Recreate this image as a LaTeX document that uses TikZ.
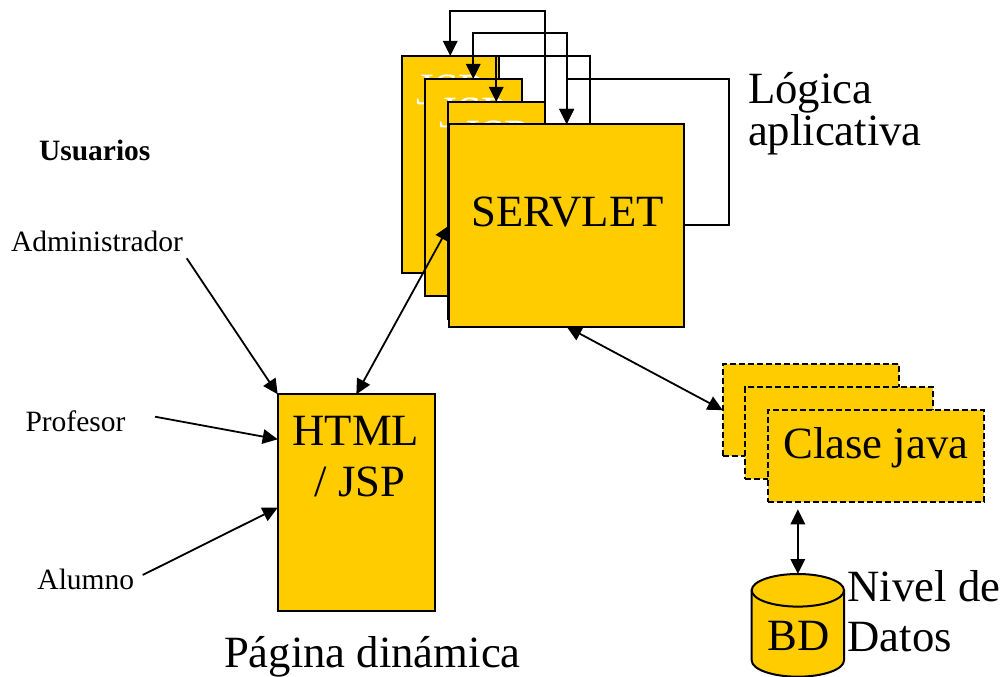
\documentclass[tikz,border=0pt]{standalone}
\usepackage{fontspec}
\setmainfont{Liberation Serif}
\usetikzlibrary{arrows.meta}
\definecolor{gold}{HTML}{FFCC00}
\begin{document}
\begin{tikzpicture}[x=1pt,y=-1pt,
  card/.style={draw=black, fill=gold, line width=2pt, inner sep=0pt, outer sep=0pt},
  pagebox/.style={card, minimum width=97.5pt, minimum height=217pt},
  dashcard/.style={card, dash pattern=on 6pt off 3pt, minimum height=91.7pt},
  bigtxt/.style={font=\fontsize{44.7pt}{50pt}\selectfont, inner sep=0pt, outer sep=0pt},
  smalltxt/.style={font=\fontsize{29.5pt}{33pt}\selectfont, inner sep=0pt, outer sep=0pt},
  ghost/.style={bigtxt, text=white, anchor=base},
  link/.style={line width=1.8pt, -{Triangle[length=15pt,width=14.5pt]}},
  duo/.style={line width=1.8pt, {Triangle[length=15pt,width=14.5pt]}-{Triangle[length=15pt,width=14.5pt]}}
]
\useasboundingbox (0,0) rectangle (1005,677);

% stacked JSP pages behind the servlet
\node[pagebox] (pA) at (450.25,164.5) {};
\node[ghost] (jA) at (450.25,104.5) {JSP};
\node[pagebox] (pB) at (473.25,187.5) {};
\node[ghost] (jB) at (473.25,127.5) {JSP};
\node[pagebox] (pC) at (496.25,210.5) {};
\node[ghost] (jC) at (496.25,150.5) {JSP};
\node[card, minimum width=234.7pt, minimum height=202.7pt] (srv) at (566.65,225.35) {};
\node[bigtxt, anchor=base] (srvt) at (567.5,226.7) {SERVLET};

% dynamic page
\node[card, minimum width=157.3pt, minimum height=216.4pt] (html) at (356.35,502.5) {};
\node[bigtxt, anchor=base west] (htmlt1) at (292.5,445) {HTML};
\node[bigtxt, anchor=base west] (htmlt2) at (314.5,496.7) {/ JSP};

% java classes
\node[dashcard, minimum width=176.6pt] (c1) at (811,410.15) {};
\node[dashcard, minimum width=188.3pt] (c2) at (839.15,433.15) {};
\node[dashcard, minimum width=216.3pt] (c3) at (875.85,455.85) {};
\node[bigtxt, anchor=base] (c3t) at (875.85,458.3) {Clase java};

% database cylinder
\draw[line width=2pt, fill=gold] (751.7,590.3) -- (751.7,660.4)
  arc[start angle=180,end angle=360,x radius=46.15pt,y radius=16.3pt] -- (844,590.3)
  arc[start angle=0,end angle=180,x radius=46.15pt,y radius=16.3pt] -- cycle;
\draw[line width=2pt] (751.7,590.3)
  arc[start angle=180,end angle=360,x radius=46.15pt,y radius=16.3pt];
\coordinate (bdtop) at (797.85,574);
\node[bigtxt, anchor=base] (bd) at (798.3,650) {BD};

% captions
\node[bigtxt, anchor=base west] (log1) at (748,103.5) {Lógica};
\node[bigtxt, anchor=base west] (log2) at (748,146) {aplicativa};
\node[bigtxt, anchor=base west] (niv1) at (847.5,601.7) {Nivel de};
\node[bigtxt, anchor=base west] (niv2) at (847.5,651.7) {Datos};
\node[bigtxt, anchor=base west] (pag) at (224,667.5) {Página dinámica};
\node[smalltxt, font=\fontsize{29.5pt}{33pt}\selectfont\bfseries, anchor=base west] (usr) at (39,160.7) {Usuarios};
\node[smalltxt, anchor=base west] (adm) at (11,251) {Administrador};
\node[smalltxt, anchor=base west] (prof) at (25.5,431) {Profesor};
\node[smalltxt, anchor=base west] (alu) at (37.5,589.5) {Alumno};

% servlet control loops
\draw[link] (pC.north east) -- (pC.north east |- 0,10.7) -| (pA.north);
\draw[duo] (pB.north) -- (pB.north |- 0,33.3) -| (srv.north);
\draw[link] (srv.north -| 590,0) |- (pC.north |- pA.north) -- (pC.north);
\draw[link] (srv.east) -- (srv.east -| 729.3,0) |- (srv.north |- 0,79.3) -- (srv.north);

% data flow
\draw[duo] (html.north) -- (srv.west);
\draw[duo] (srv.south) -- (c1.west);
\draw[duo, shorten <=7.6pt] (bdtop |- c3.south) -- (bdtop);

% users
\coordinate (a0) at (186.7,258.3);
\coordinate (p0) at (155,416.7);
\coordinate (m0) at (142.7,575);
\draw[link] (a0) -- (html.north west);
\draw[link] (p0) -- (html.west |- 0,439.3);
\draw[link] (m0) -- (html.west |- 0,507.7);
\end{tikzpicture}
\end{document}
